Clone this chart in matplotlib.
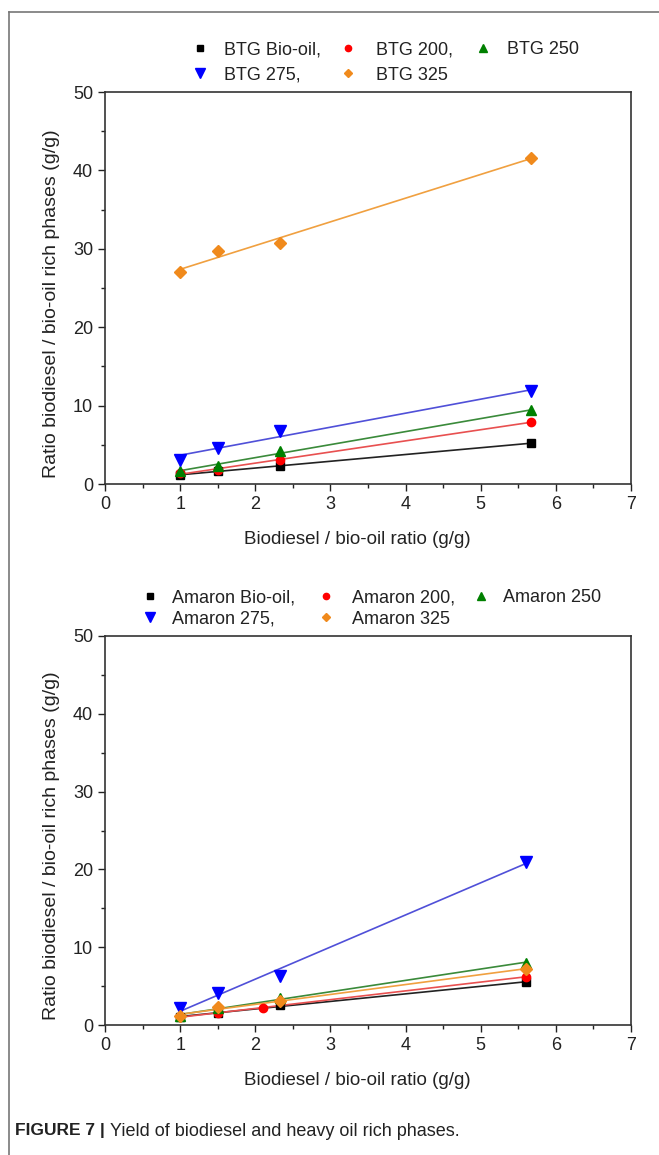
import numpy as np
import matplotlib
matplotlib.use("Agg")
import matplotlib.pyplot as plt
from matplotlib.lines import Line2D

plt.rcParams['font.family'] = ['Liberation Sans', 'DejaVu Sans']

# upper panel (BTG)
btg_x = [1, 1.5, 2.33, 5.67]
btg_biooil = [1.1, 1.7, 2.3, 5.2]
btg_200 = [1.4, 1.8, 3.1, 7.9]
btg_250 = [1.7, 2.3, 4.2, 9.4]
btg_275 = [3.1, 4.6, 6.8, 11.8]
btg_325 = [27.1, 29.7, 30.8, 41.6]
btg_labels = ['BTG Bio-oil,', 'BTG 200,', 'BTG 250', 'BTG 275,', 'BTG 325']

# lower panel (Amaron)
am_x = [1, 1.5, 2.33, 5.6]
am_x_200 = [1, 1.5, 2.1, 5.6]
am_biooil = [1.0, 1.5, 2.6, 5.5]
am_200 = [1.0, 1.6, 2.2, 6.2]
am_250 = [1.1, 2.2, 3.5, 8.0]
am_275 = [2.2, 4.1, 6.3, 21.0]
am_325 = [1.1, 2.3, 3.1, 7.2]
am_labels = ['Amaron Bio-oil,', 'Amaron 200,', 'Amaron 250', 'Amaron 275,', 'Amaron 325']

markers = ['s', 'o', '^', 'v', 'D']
mcolors = ['black', 'red', 'green', 'blue', '#f08a1c']
lcolors = ['#222222', '#e85050', '#3a8a3a', '#5050d8', '#f0a040']
msizes = [6, 6, 7, 8, 6]

W, H = 659, 1155
fig = plt.figure(figsize=(W / 100, H / 100), dpi=100)

# outer frame (left and top only)
fig.add_artist(Line2D([9/W, 9/W], [0, 1 - 12/H], transform=fig.transFigure,
                      color='#777777', lw=1.2))
fig.add_artist(Line2D([9/W, 1], [1 - 12/H, 1 - 12/H], transform=fig.transFigure,
                      color='#777777', lw=1.2))


def legend_entries(labels, mx, tx, ys):
    # row 1: entries 0,1,2 ; row 2: entries 3,4
    slots = [(0, 0), (0, 1), (0, 2), (1, 0), (1, 1)]
    for i, (r, c) in enumerate(slots):
        y = 1 - ys[r] / H
        fig.add_artist(Line2D([mx[c] / W], [y], transform=fig.transFigure,
                              linestyle='none', marker=markers[i], color=mcolors[i],
                              markersize=msizes[i] - 1.5))
        fig.text(tx[c] / W, y, labels[i], fontsize=13, color='#222222',
                 va='center_baseline', ha='left')


def panel(ax, xs, series):
    for i, (x, y) in enumerate(zip(xs, series)):
        k, b = np.polyfit(x, y, 1)
        xf = np.array([min(x), max(x)])
        ax.plot(xf, k * xf + b, color=lcolors[i], lw=1.2, zorder=2)
        ax.plot(x, y, linestyle='none', marker=markers[i], color=mcolors[i],
                markersize=msizes[i], zorder=3)
    ax.set_xlim(0, 7)
    ax.set_ylim(0, 50)
    ax.set_xticks(range(0, 8))
    ax.set_xticks(np.arange(0.5, 7, 1), minor=True)
    ax.set_yticks(range(0, 51, 10))
    ax.set_yticks(range(5, 50, 10), minor=True)
    ax.tick_params(which='both', direction='out', labelsize=13, colors='#222222',
                   top=False, right=False)
    ax.tick_params(which='major', length=5, width=1)
    ax.tick_params(which='minor', length=3, width=1)
    for s in ax.spines.values():
        s.set_color('#333333')
        s.set_linewidth(1.2)
    ax.set_xlabel('Biodiesel / bio-oil ratio (g/g)', fontsize=13.5, color='#222222')
    ax.xaxis.set_label_coords(0.48, -0.12)
    ax.set_ylabel('Ratio biodiesel / bio-oil rich phases (g/g)', fontsize=14,
                  color='#222222')
    ax.yaxis.set_label_coords(-0.085, 0.46)


ax1 = fig.add_axes([105/W, 1 - 484/H, 526/W, 392/H])
panel(ax1, [btg_x] * 5, [btg_biooil, btg_200, btg_250, btg_275, btg_325])
legend_entries(btg_labels, [200, 348, 483], [224, 376, 507], [48, 73])

ax2 = fig.add_axes([105/W, 1 - 1025/H, 526/W, 389/H])
panel(ax2, [am_x, am_x_200, am_x, am_x, am_x], [am_biooil, am_200, am_250, am_275, am_325])
legend_entries(am_labels, [150, 326, 481], [172, 352, 503], [596, 617])

fig.text(15/W, 1 - 1131/H, 'FIGURE 7 |', fontsize=12.5, fontweight='bold',
         color='#222222', va='center')
fig.text(110/W, 1 - 1131/H, 'Yield of biodiesel and heavy oil rich phases.',
         fontsize=13, color='#222222', va='center')

fig.savefig('out.png', dpi=100)
